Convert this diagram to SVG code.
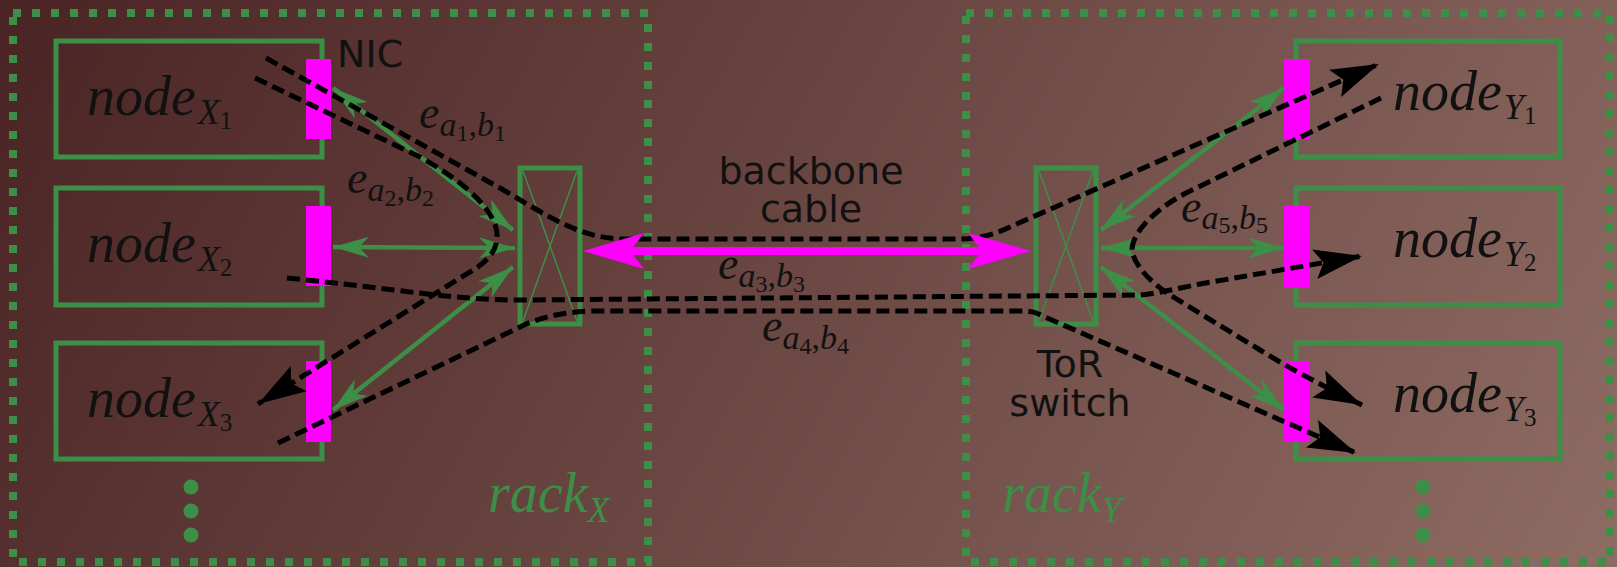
<svg xmlns="http://www.w3.org/2000/svg" width="1617" height="567" viewBox="0 0 1617 567">
<defs>
<linearGradient id="bg" gradientUnits="userSpaceOnUse" x1="0" y1="0" x2="1617" y2="900">
<stop offset="0" stop-color="#4a2424"/>
<stop offset="1" stop-color="#947369"/>
</linearGradient>
<marker id="ga" markerUnits="userSpaceOnUse" viewBox="-38 -12 40 24" refX="0" refY="0" markerWidth="40" markerHeight="24" orient="auto-start-reverse"><path d="M0,0 L-36,-10.5 L-26,0 L-36,10.5 Z" fill="#3d8f48"/></marker>
<marker id="ba" markerUnits="userSpaceOnUse" viewBox="-50 -17 52 34" refX="0" refY="0" markerWidth="52" markerHeight="34" orient="auto"><path d="M0,0 L-48,-15 L-39,0 L-48,15 Z" fill="#000"/></marker>
<style>
.rack{fill:none;stroke:#3d8f48;stroke-width:8;stroke-dasharray:8 11}
.box{fill:none;stroke:#3d8f48;stroke-width:5}
.nic{fill:#ff00ff}
.sw{fill:none;stroke:#3d8f48;stroke-width:5}
.swx{stroke:#3d8f48;stroke-width:1.5}
.g{stroke:#3d8f48;stroke-width:4.5;fill:none;marker-start:url(#ga);marker-end:url(#ga)}
.d{stroke:#000;stroke-width:5;fill:none;stroke-dasharray:13 6;marker-end:url(#ba)}
.sans{font-family:"DejaVu Sans",sans-serif;font-size:38px;fill:#111}
.mi{font-family:"Liberation Serif",serif;font-style:italic;fill:#111}
.rm{font-style:normal}
.gl{fill:#3d8f48}
.dot{fill:#3d8f48}
</style>
</defs>
<rect width="1617" height="567" fill="url(#bg)"/>

<g id="rack-x">
<rect class="rack" x="13" y="13" width="635" height="549"/>
<text class="mi gl" x="488" y="512" font-size="56">rack<tspan font-size="36" dy="10">X</tspan></text>
<circle class="dot" cx="191" cy="487" r="7.5"/>
<circle class="dot" cx="191" cy="511" r="7.5"/>
<circle class="dot" cx="191" cy="535" r="7.5"/>
</g>
<g id="rack-y">
<rect class="rack" x="966" y="13" width="644" height="549"/>
<text class="mi gl" x="1002" y="512" font-size="56">rack<tspan font-size="36" dy="10">Y</tspan></text>
<circle class="dot" cx="1423" cy="487" r="7.5"/>
<circle class="dot" cx="1423" cy="511" r="7.5"/>
<circle class="dot" cx="1423" cy="535" r="7.5"/>
</g>

<g id="node-x1">
<rect class="box" x="56" y="41" width="266" height="116"/>
<rect class="nic" x="306" y="59" width="25" height="80"/>
<text class="mi" x="87" y="115" font-size="56">node<tspan font-size="36" dy="9" dx="2">X</tspan><tspan class="rm" font-size="25" dy="5">1</tspan></text>
</g>
<g id="node-x2">
<rect class="box" x="56" y="188" width="266" height="117"/>
<rect class="nic" x="306" y="206" width="25" height="80"/>
<text class="mi" x="87" y="262" font-size="56">node<tspan font-size="36" dy="9" dx="2">X</tspan><tspan class="rm" font-size="25" dy="5">2</tspan></text>
</g>
<g id="node-x3">
<rect class="box" x="56" y="343" width="266" height="116"/>
<rect class="nic" x="306" y="361" width="25" height="81"/>
<text class="mi" x="87" y="417" font-size="56">node<tspan font-size="36" dy="9" dx="2">X</tspan><tspan class="rm" font-size="25" dy="5">3</tspan></text>
</g>
<g id="node-y1">
<rect class="box" x="1296" y="41" width="264" height="116"/>
<rect class="nic" x="1284" y="59" width="26" height="80"/>
<text class="mi" x="1393" y="110" font-size="56">node<tspan font-size="36" dy="9" dx="2">Y</tspan><tspan class="rm" font-size="25" dy="5">1</tspan></text>
</g>
<g id="node-y2">
<rect class="box" x="1296" y="188" width="264" height="117"/>
<rect class="nic" x="1284" y="206" width="26" height="81"/>
<text class="mi" x="1393" y="257" font-size="56">node<tspan font-size="36" dy="9" dx="2">Y</tspan><tspan class="rm" font-size="25" dy="5">2</tspan></text>
</g>
<g id="node-y3">
<rect class="box" x="1296" y="343" width="264" height="116"/>
<rect class="nic" x="1284" y="361" width="26" height="81"/>
<text class="mi" x="1393" y="412" font-size="56">node<tspan font-size="36" dy="9" dx="2">Y</tspan><tspan class="rm" font-size="25" dy="5">3</tspan></text>
</g>

<g id="switch-x">
<rect class="sw" x="520" y="168" width="60" height="156"/>
<line class="swx" x1="523" y1="171" x2="577" y2="321"/>
<line class="swx" x1="577" y1="171" x2="523" y2="321"/>
</g>
<g id="switch-y">
<rect class="sw" x="1036" y="168" width="60" height="156"/>
<line class="swx" x1="1039" y1="171" x2="1093" y2="321"/>
<line class="swx" x1="1093" y1="171" x2="1039" y2="321"/>
<text class="sans" x="1070" y="377" text-anchor="middle">ToR</text>
<text class="sans" x="1070" y="416" text-anchor="middle">switch</text>
</g>

<g id="labels">
<text class="sans" x="337" y="67">NIC</text>
<text class="sans" x="811" y="184" text-anchor="middle">backbone</text>
<text class="sans" x="811" y="222" text-anchor="middle">cable</text>
</g>

<g id="connectors">
<line class="g" x1="333" y1="88" x2="513" y2="230"/>
<line class="g" x1="333" y1="247" x2="515" y2="248"/>
<line class="g" x1="333" y1="410" x2="513" y2="267"/>
<line class="g" x1="1284" y1="88" x2="1101" y2="230"/>
<line class="g" x1="1284" y1="248" x2="1101" y2="248"/>
<line class="g" x1="1284" y1="410" x2="1101" y2="267"/>

<path class="d" d="M266,58 L500,188 C548,216 580,239 625,239 L960,239 Q985,239 1010,227 L1379,64"/>
<path class="d" d="M255,78 L420,157 C470,185 500,215 497,240 C494,258 480,266 465,275 L258,404"/>
<path class="d" d="M287,278 C400,289 450,300 520,300 L1140,295 C1160,293 1175,289 1200,284 L1362,256"/>
<path class="d" d="M278,443 L518,328 Q546,313 590,311 L1025,311 Q1035,311 1045,317 L1356,453"/>
<path class="d" d="M1381,98 L1186,193 C1150,212 1132,235 1132,250 C1134,265 1150,282 1170,295 L1260,350 Q1300,375 1362,405"/>

<line x1="628" y1="251" x2="986" y2="251" stroke="#ff00ff" stroke-width="8"/>
<path d="M583,251 L644,233 L630,251 L644,269 Z" fill="#ff00ff"/>
<path d="M1031,251 L968,233 L982,251 L968,269 Z" fill="#ff00ff"/>

<text class="mi" x="419" y="128" font-size="46">e<tspan font-size="34" dy="8">a</tspan><tspan class="rm" font-size="24" dy="5">1</tspan><tspan class="rm" font-size="34" dy="-5">,</tspan><tspan font-size="34">b</tspan><tspan class="rm" font-size="24" dy="5">1</tspan></text>
<text class="mi" x="347" y="193" font-size="46">e<tspan font-size="34" dy="8">a</tspan><tspan class="rm" font-size="24" dy="5">2</tspan><tspan class="rm" font-size="34" dy="-5">,</tspan><tspan font-size="34">b</tspan><tspan class="rm" font-size="24" dy="5">2</tspan></text>
<text class="mi" x="718" y="279" font-size="46">e<tspan font-size="34" dy="8">a</tspan><tspan class="rm" font-size="24" dy="5">3</tspan><tspan class="rm" font-size="34" dy="-5">,</tspan><tspan font-size="34">b</tspan><tspan class="rm" font-size="24" dy="5">3</tspan></text>
<text class="mi" x="762" y="341" font-size="46">e<tspan font-size="34" dy="8">a</tspan><tspan class="rm" font-size="24" dy="5">4</tspan><tspan class="rm" font-size="34" dy="-5">,</tspan><tspan font-size="34">b</tspan><tspan class="rm" font-size="24" dy="5">4</tspan></text>
<text class="mi" x="1181" y="222" font-size="46">e<tspan font-size="34" dy="7">a</tspan><tspan class="rm" font-size="24" dy="4">5</tspan><tspan class="rm" font-size="34" dy="-4">,</tspan><tspan font-size="34">b</tspan><tspan class="rm" font-size="24" dy="4">5</tspan></text>
</g>
</svg>
